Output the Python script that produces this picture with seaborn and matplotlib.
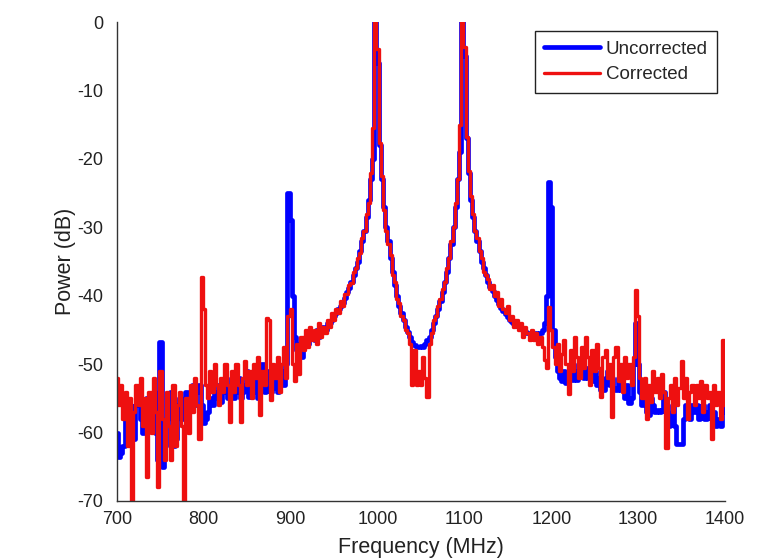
import numpy as np
import pandas as pd
import matplotlib
matplotlib.use("Agg")
import matplotlib.pyplot as plt
import seaborn as sns

# Frequency grid (MHz), 2.5 MHz bins from 700 to 1400
freq_start, freq_stop, freq_step = 700.0, 1400.0, 2.5
freq = np.arange(freq_start, freq_stop + freq_step / 2, freq_step)

# Power (dB), uncorrected spectrum
uncorrected = [
    -60, -63.5, -63, -62, -57, -60, -56, -59, -61, -56,
    -55, -58, -60, -57, -55, -59, -57, -54, -60, -64,
    -46.7, -65, -62, -58, -56, -54, -62, -61, -56, -55,
    -58, -56, -54, -57, -55, -53, -56, -54, -53, -56,
    -58.6, -58, -57, -55, -56, -54, -55, -53, -55.5, -54,
    -53, -55, -54, -52, -55, -54, -52, -55, -54, -53,
    -51, -54.8, -53, -51, -54, -55, -52, -50, -54, -53,
    -51, -54, -53.5, -52, -54, -53, -51, -53, -50, -25,
    -29, -40, -46, -48, -47, -49, -47.5, -46, -47, -46,
    -45.5, -46.5, -45, -46, -45, -44.5, -45, -44, -44, -43.5,
    -43, -42.5, -42, -41.5, -41, -40.3, -39.5, -38.8, -38, -37,
    -36, -35, -33.5, -32, -30.5, -28.5, -26, -23, -20, 3,
    -6, -18, -23, -27, -30, -32, -34.5, -36.5, -38.5, -40,
    -41.5, -42.5, -43.5, -44.5, -45.3, -46, -46.7, -47.2, -47.5, -47.5,
    -47.3, -47.5, -47, -46.5, -46, -45, -44, -43, -42, -40.8,
    -39.5, -38, -36.5, -34.5, -32.5, -30, -27, -23, -19, 3,
    -5, -17, -22, -26, -28.5, -30.5, -32, -33.5, -35, -36,
    -37, -38, -38.7, -39.3, -40, -40.6, -41.2, -41.8, -42.3, -42.7,
    -43.1, -43.5, -43.8, -44.1, -44.4, -44.6, -44.8, -45, -45.2, -45.4,
    -45.5, -45.6, -45.7, -45.5, -45.7, -45.5, -45, -44, -40, -23.4,
    -27, -45, -49, -51, -52, -52.5, -51, -52.8, -52, -51,
    -52.3, -51, -52.3, -50, -51.5, -52, -50.5, -52, -51, -52.5,
    -51, -53, -52, -53.8, -53.8, -52, -51, -53, -52, -53.5,
    -53.8, -52, -53.8, -53, -55, -53, -55.7, -55, -50, -44,
    -50, -54, -56, -55, -57, -57.5, -55, -56, -57, -56.7,
    -57, -56.7, -54, -57, -59, -58.5, -56, -59, -61.6, -61.6,
    -61.6, -58, -56, -57, -58, -56, -57, -56, -58, -57,
    -56, -58, -57, -56, -58, -57, -59, -58, -59, -55,
    -57,
]

# Power (dB), corrected spectrum
corrected = [
    -52, -56, -53, -58, -54, -62, -55, -71, -57, -53,
    -56, -52, -59, -55, -66.5, -54, -60, -52, -57, -68,
    -51, -58, -64, -54, -59, -64, -53, -62, -56, -54,
    -59, -71, -55, -60, -53, -57, -52, -56, -61, -37.3,
    -42, -53, -55, -51, -54, -50, -53, -56, -52, -54,
    -50, -53, -58.5, -51, -54, -50, -53, -58.5, -52, -49.5,
    -53, -51, -55, -50, -52, -49, -57.5, -51, -53, -43.3,
    -43.5, -55.3, -50, -52, -49, -54, -50, -47.5, -52, -43,
    -42, -50, -52.4, -47, -51.5, -46, -48, -45, -47.5, -44.5,
    -46.5, -45, -47, -44, -46, -44.5, -45.5, -43.5, -44.5, -42.5,
    -43.5, -42, -42.5, -40.8, -41.5, -39.8, -39.8, -38.5, -38.2, -36.5,
    -36, -34.5, -33.8, -31.5, -30.5, -28, -26.5, -22, -15.5, 3,
    -4, -17.7, -22.5, -27.5, -30.5, -32.5, -34, -37, -38, -40.5,
    -41, -43, -43.5, -45, -45.5, -47, -53, -48, -53, -51,
    -53, -49, -52, -54.8, -47, -45.5, -43.5, -43, -41.5, -40.5,
    -39, -38, -36, -34.5, -32, -30, -26.5, -23, -15, 3,
    -3.6, -16.8, -21.8, -25.5, -28, -30.5, -31.5, -33.5, -34.5, -36.5,
    -37, -37.5, -39, -38.5, -40, -39.5, -41.5, -40.5, -42, -42.5,
    -41.5, -43.5, -43, -44.5, -43.5, -45, -44, -46, -44.5, -45.5,
    -46.5, -45, -46.5, -45.5, -47, -46, -47.5, -49.4, -50.5, -41.6,
    -45, -47.5, -50, -47, -51, -48.5, -46.5, -50, -54.3, -48,
    -51, -46, -49, -52, -47.5, -50.5, -46, -49, -53, -48,
    -51, -47, -50.5, -54.8, -49, -48, -52, -50, -57.7, -49,
    -47.5, -52.5, -50, -54, -49, -52, -50, -53, -49, -39.2,
    -43, -52, -55, -52, -58, -53, -55.5, -51, -54, -52,
    -55, -51.5, -54, -62.3, -55, -53, -57, -52, -56, -53.5,
    -49.5, -55, -52, -58, -54, -53, -56, -53, -55, -52.5,
    -57, -53, -55, -54, -61, -53, -56, -54, -58, -46.5,
    -56,
]

x_ticks = [700, 800, 900, 1000, 1100, 1200, 1300, 1400]
y_ticks = [0, -10, -20, -30, -40, -50, -60, -70]
series_names = ["Uncorrected", "Corrected"]
x_label = "Frequency (MHz)"
y_label = "Power (dB)"

df = pd.DataFrame({"freq": freq, "Uncorrected": uncorrected, "Corrected": corrected})

sns.set_style("white")
plt.rcParams["font.family"] = ["Liberation Sans", "DejaVu Sans"]

fig = plt.figure(figsize=(7.83, 5.59), dpi=100)
ax = fig.add_axes([0.1494, 0.1038, 0.7766, 0.8568])

sns.lineplot(data=df, x="freq", y="Uncorrected", ax=ax, color="#0000ff",
             linewidth=3.4, drawstyle="steps-mid", estimator=None,
             label=series_names[0])
sns.lineplot(data=df, x="freq", y="Corrected", ax=ax, color="#ee1010",
             linewidth=2.4, drawstyle="steps-mid", estimator=None,
             label=series_names[1])

ax.set_xlim(700, 1400)
ax.set_ylim(-70, 0)
ax.set_xticks(x_ticks)
ax.set_yticks(y_ticks)
ax.set_xticklabels([str(t) for t in x_ticks])
ax.set_yticklabels([str(t) for t in y_ticks])

for s in ["top", "right"]:
    ax.spines[s].set_visible(False)
for s in ["left", "bottom"]:
    ax.spines[s].set_color("#333333")
    ax.spines[s].set_linewidth(1.0)

ax.tick_params(axis="both", direction="in", length=4.5, width=0.9,
               colors="#333333", labelcolor="#222222", labelsize=13)
ax.tick_params(axis="y", pad=10)
ax.tick_params(axis="x", pad=7)

ax.set_xlabel(x_label, fontsize=15.5, color="#222222", labelpad=7)
ax.set_ylabel(y_label, fontsize=15.5, color="#222222", labelpad=1)

leg = ax.legend(loc="upper right", bbox_to_anchor=(0.987, 0.981),
                borderaxespad=0, fancybox=False, framealpha=1,
                edgecolor="#222222", fontsize=13.5, handlelength=3.0,
                handletextpad=0.3, borderpad=0.5, labelspacing=0.45)
leg.get_frame().set_linewidth(1.0)

fig.savefig("out.png", dpi=100, facecolor="white")
